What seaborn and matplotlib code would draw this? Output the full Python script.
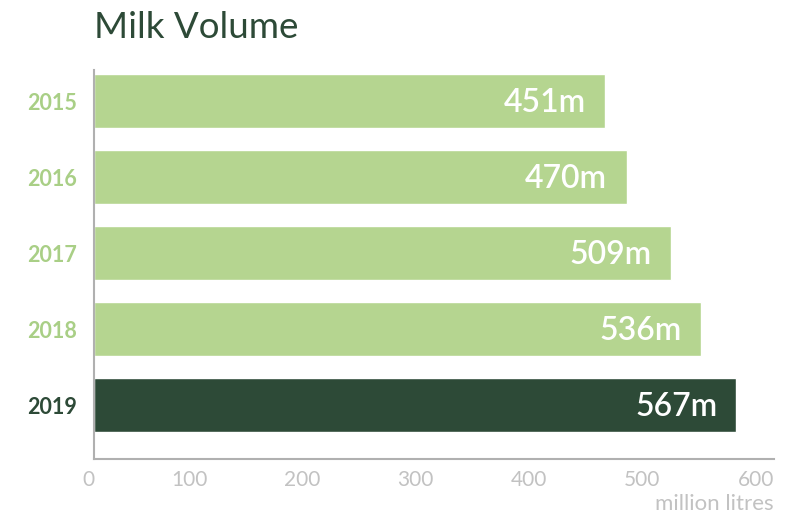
import numpy as np
import pandas as pd
import matplotlib
matplotlib.use("Agg")
import matplotlib.pyplot as plt
import seaborn as sns

years = ["2015", "2016", "2017", "2018", "2019"]
volume = [451, 470, 509, 536, 567]
x_ticks = [0, 100, 200, 300, 400, 500, 600]

light_green = "#b5d590"
dark_green = "#2d4a37"
label_green = "#a9cf86"
grey = "#b0b0b0"
tick_grey = "#c2c2c2"

sns.set_style("white")
plt.rcParams["font.family"] = ["Lato", "DejaVu Sans"]

df = pd.DataFrame({"year": years, "volume": volume})
palette = {y: (dark_green if y == "2019" else light_green) for y in years}

fig = plt.figure(figsize=(7.88, 5.18), dpi=100)
ax = fig.add_axes([0.1193, 0.1139, 0.8627, 0.751])

sns.barplot(data=df, x="volume", y="year", hue="year", palette=palette,
            orient="h", width=0.71, saturation=1, legend=False, ax=ax)

ax.set_xlim(0, 600)
ax.set_ylim(4.71, -0.41)
ax.set_xticks(x_ticks)
ax.set_xticklabels([str(t) for t in x_ticks], fontsize=15, color=tick_grey,
                   ha="right")
ax.set_xlabel("")
ax.set_ylabel("")
ax.tick_params(axis="x", direction="in", length=7, width=1.5, color=grey, pad=8)
ax.tick_params(axis="y", length=0, pad=12.5)
for lbl in ax.get_yticklabels():
    lbl.set_fontsize(15.5)
    lbl.set_fontweight("bold")
    lbl.set_color(dark_green if lbl.get_text() == "2019" else label_green)

for s in ["top", "right"]:
    ax.spines[s].set_visible(False)
for s in ["left", "bottom"]:
    ax.spines[s].set_color(grey)
    ax.spines[s].set_linewidth(1.5)

# value labels inside the bar ends
for i, v in enumerate(volume):
    ax.text(v - 17, i + 0.02, f"{v}m", ha="right", va="center",
            color="white", fontsize=23, fontweight="semibold")

fig.text(0.1193, 0.947, "Milk Volume", fontsize=26.5, color=dark_green,
         ha="left", va="center")
fig.text(0.982, 0.027, "million litres", fontsize=16, color=tick_grey,
         ha="right", va="center")

fig.savefig("out.png", dpi=100)
